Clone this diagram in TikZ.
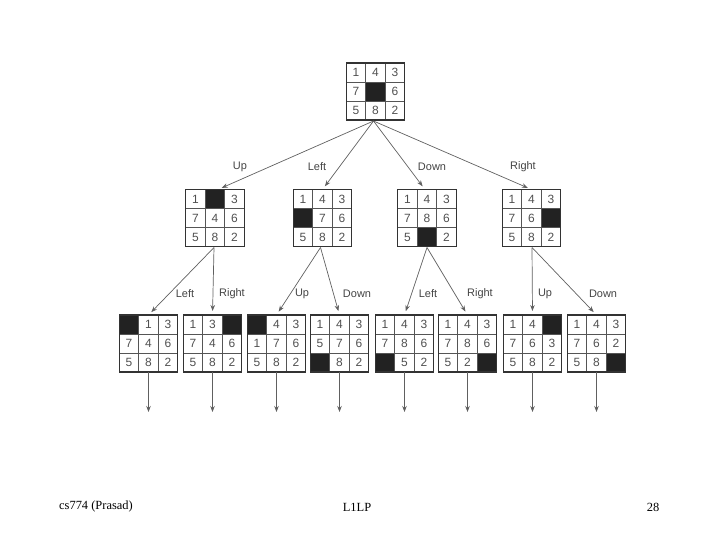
\documentclass[tikz,border=0pt]{standalone}
\usepackage{fontspec}
\setmainfont{Liberation Serif}
\newfontfamily\puzfont{Liberation Sans}
\usetikzlibrary{arrows.meta,calc}
\definecolor{gridc}{HTML}{555555}
\definecolor{edgec}{HTML}{333333}
\definecolor{holec}{HTML}{222222}
\definecolor{digc}{HTML}{505050}
\definecolor{arrc}{HTML}{606060}
\definecolor{labc}{HTML}{444444}
\tikzset{
  puzbox/.style={rectangle,minimum width=58.5bp,minimum height=57bp,inner sep=0pt,outer sep=0pt},
  digit/.style={font=\puzfont\fontsize{12}{12}\selectfont,text=digc,inner sep=0pt},
  move/.style={draw=arrc,line width=0.7bp,-{Stealth[length=6bp,width=4.5bp]},shorten >=4bp},
  mlabel/.style={font=\puzfont\fontsize{11}{11}\selectfont,text=labc,inner sep=0pt},
  footer/.style={font=\fontsize{12.5}{12.5}\selectfont,text=black,inner sep=0pt}
}
\newcommand\puzzle[4]{%
  \node[puzbox] (#1) at (#2,#3) {};
  \foreach \v [count=\k from 0] in {#4} {
    \pgfmathtruncatemacro\pcol{mod(\k,3)}
    \pgfmathtruncatemacro\prow{div(\k,3)}
    \ifnum\v=0
      \fill[holec] ($(#1.north west)+(\pcol*19.5,\prow*19)$) rectangle ++(19.5,19);
    \else
      \node[digit] at ($(#1.north west)+(\pcol*19.5+9.75,\prow*19+9.5)$) {\v};
    \fi
  }
  \draw[gridc,line width=0.7bp] ($(#1.north west)+(19.5,0)$) -- ++(0,57)
    ($(#1.north west)+(39,0)$) -- ++(0,57)
    ($(#1.north west)+(0,19)$) -- ++(58.5,0)
    ($(#1.north west)+(0,38)$) -- ++(58.5,0);
  \draw[edgec,line width=1.1bp] (#1.north west) rectangle (#1.south east);
}
\begin{document}
\begin{tikzpicture}[x=1bp,y=-1bp]
\useasboundingbox (0,0) rectangle (720,540);
% root
\puzzle{root}{375.5}{91.5}{1,4,3,7,0,6,5,8,2}
% level 1
\puzzle{u}{215}{218}{1,0,3,7,4,6,5,8,2}
\puzzle{l}{322.5}{218}{1,4,3,0,7,6,5,8,2}
\puzzle{d}{427}{218}{1,4,3,7,8,6,5,0,2}
\puzzle{r}{531.5}{218}{1,4,3,7,6,0,5,8,2}
% level 2
\puzzle{ul}{148.5}{343.5}{0,1,3,7,4,6,5,8,2}
\puzzle{ur}{212.5}{343.5}{1,3,0,7,4,6,5,8,2}
\puzzle{lu}{276.5}{343.5}{0,4,3,1,7,6,5,8,2}
\puzzle{ld}{339.5}{343.5}{1,4,3,5,7,6,0,8,2}
\puzzle{dl}{404.5}{343.5}{1,4,3,7,8,6,0,5,2}
\puzzle{dr}{467.5}{343.5}{1,4,3,7,8,6,5,2,0}
\puzzle{ru}{532.5}{343.5}{1,4,0,7,6,3,5,8,2}
\puzzle{rd}{596.5}{343.5}{1,4,3,7,6,2,5,8,0}
% arrows root -> level 1
\coordinate (rs) at ($(root.south)+(-2,1)$);
\draw[move] (rs) -- ($(u.north)+(3,0)$);
\draw[move] (rs) -- (l.north);
\draw[move] (rs) -- ($(d.north)+(-2,0)$);
\draw[move] (rs) -- (r.north);
\node[mlabel] at (240,167) {Up};
\node[mlabel] at (317,167) {Left};
\node[mlabel] at (432,167) {Down};
\node[mlabel] at (523,167) {Right};
% level 1 -> level 2
\coordinate (us) at ($(u.south)+(-1,1)$);
\coordinate (ls) at ($(l.south)+(-2,1)$);
\coordinate (ds) at ($(d.south)+(0,1)$);
\coordinate (rrs) at ($(r.south)+(0.5,1)$);
\draw[move] (us) -- (ul.north);
\draw[move] (us) -- (ur.north);
\draw[move] (ls) -- (lu.north);
\draw[move] (ls) -- (ld.north);
\draw[move] (ds) -- (dl.north);
\draw[move] (ds) -- (dr.north);
\draw[move] (rrs) -- (ru.north);
\draw[move] (rrs) -- (rd.north);
\node[mlabel] at (185,294) {Left};
\node[mlabel] at (232,294) {Right};
\node[mlabel] at (302,294) {Up};
\node[mlabel] at (357,294) {Down};
\node[mlabel] at (428,294) {Left};
\node[mlabel] at (480,294) {Right};
\node[mlabel] at (545,294) {Up};
\node[mlabel] at (603,294) {Down};
% open arrows below level 2
\foreach \n in {ul,ur,lu,ld,dl,dr,ru,rd} {
  \coordinate (\n e) at ($(\n.south)+(0,40)$);
  \draw[draw=arrc,line width=0.7bp,-{Stealth[length=6bp,width=4.5bp]}] (\n.south) -- (\n e);
}
% footer
\node[footer] (f1) at (96,507) {cs774 (Prasad)};
\node[footer] (f2) at (357,507) {L1LP};
\node[footer] (f3) at (653,507) {28};
\end{tikzpicture}
\end{document}
